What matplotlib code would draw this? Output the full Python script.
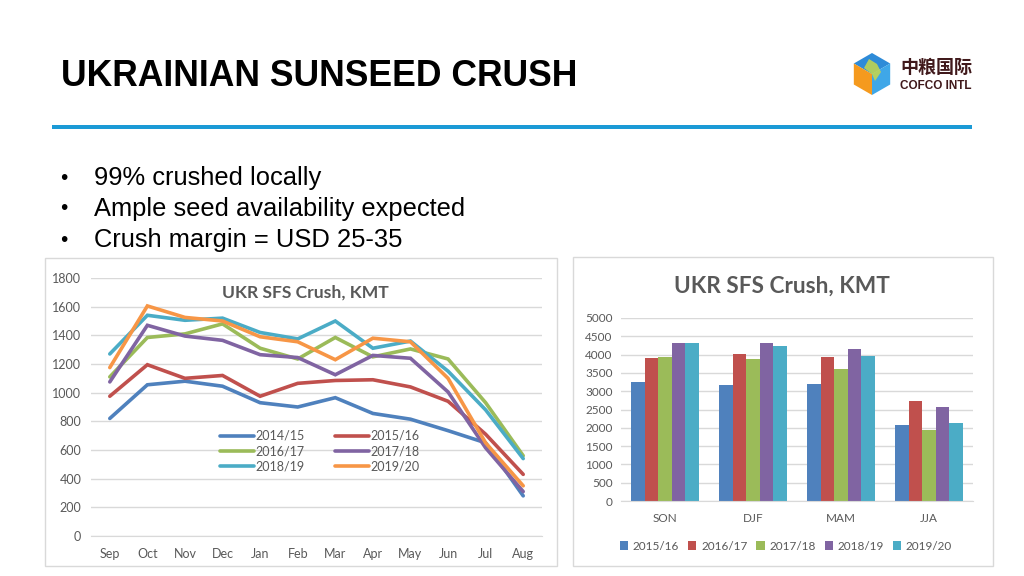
import matplotlib
matplotlib.use("Agg")
import matplotlib.pyplot as plt
from matplotlib.patches import Rectangle, Polygon
import numpy as np

# ---------------- data ----------------
months = ["Sep", "Oct", "Nov", "Dec", "Jan", "Feb", "Mar", "Apr", "May", "Jun", "Jul", "Aug"]
line_labels = ["2014/15", "2015/16", "2016/17", "2017/18", "2018/19", "2019/20"]
crush_1415 = [820, 1055, 1080, 1045, 930, 900, 965, 855, 815, 735, 650, 280]
crush_1516 = [975, 1195, 1100, 1120, 975, 1065, 1085, 1090, 1040, 940, 710, 430]
crush_1617 = [1110, 1385, 1410, 1480, 1310, 1235, 1385, 1250, 1305, 1235, 930, 560]
crush_1718 = [1075, 1470, 1395, 1365, 1265, 1245, 1125, 1260, 1240, 1005, 615, 310]
crush_1819 = [1270, 1540, 1505, 1520, 1420, 1375, 1500, 1310, 1360, 1150, 880, 540]
crush_1920 = [1175, 1605, 1525, 1500, 1390, 1355, 1230, 1380, 1355, 1100, 650, 350]
line_series = [crush_1415, crush_1516, crush_1617, crush_1718, crush_1819, crush_1920]
line_colors = ["#4F81BD", "#C0504D", "#9BBB59", "#8064A2", "#4BACC6", "#F79646"]

seasons = ["SON", "DJF", "MAM", "JJA"]
bar_labels = ["2015/16", "2016/17", "2017/18", "2018/19", "2019/20"]
bar_1516 = [3260, 3170, 3200, 2080]
bar_1617 = [3920, 4010, 3940, 2720]
bar_1718 = [3940, 3880, 3620, 1930]
bar_1819 = [4310, 4310, 4160, 2570]
bar_1920 = [4310, 4230, 3950, 2120]
bar_series = [bar_1516, bar_1617, bar_1718, bar_1819, bar_1920]
bar_colors = ["#4F81BD", "#C0504D", "#9BBB59", "#8064A2", "#4BACC6"]

title = "UKRAINIAN SUNSEED CRUSH"
bullets = ["99% crushed locally", "Ample seed availability expected", "Crush margin = USD 25-35"]
chart_title = "UKR SFS Crush, KMT"

W, H = 1024, 576
fig = plt.figure(figsize=(W / 100, H / 100), dpi=100)
fig.patch.set_facecolor("white")


def fx(x):
    return x / W


def fy(y):
    return 1 - y / H


def axes_px(x0, y0, x1, y1, **kw):
    return fig.add_axes([fx(x0), fy(y1), (x1 - x0) / W, (y1 - y0) / H], **kw)


SLIDE_FONT = ["Liberation Sans", "DejaVu Sans"]
CHART_FONT = ["Lato", "DejaVu Sans"]
GRAY = "#595959"
GRID = "#D9D9D9"

# ---------------- header ----------------
fig.text(fx(61), fy(76), title, fontsize=25.6, fontweight="bold", family=SLIDE_FONT,
         color="black", va="center", ha="left")
fig.add_artist(Rectangle((fx(52), fy(129)), fx(972) - fx(52), 4 / H,
                         transform=fig.transFigure, facecolor="#1B9AD6", edgecolor="none"))

for i, b in enumerate(bullets):
    y = 178 + i * 31
    fig.text(fx(60), fy(y), "•", fontsize=15, family=SLIDE_FONT, va="center", ha="left")
    fig.text(fx(94), fy(y), b, fontsize=18.4, family=SLIDE_FONT, va="center", ha="left")

# ---------------- logo ----------------
cx, cy, r = 872, 74, 21
hexpts = [(cx + r * np.cos(np.radians(a)), cy + r * np.sin(np.radians(a))) for a in (30, 90, 150, 210, 270, 330)]
center = (cx, cy)
top = [center, hexpts[3], hexpts[4], hexpts[5]]
left = [center, hexpts[1], hexpts[2], hexpts[3]]
right = [center, hexpts[5], hexpts[0], hexpts[1]]
for pts, col in [(top, "#2E8BD8"), (left, "#F59A1E"), (right, "#3FA7E8")]:
    fig.add_artist(Polygon([(fx(px), fy(py)) for px, py in pts], closed=True,
                           transform=fig.transFigure, facecolor=col, edgecolor="none"))
leaf = [(cx, cy), (cx - 8, cy - 6), (cx - 3, cy - 15), (cx + 5, cy - 10), (cx + 9, cy - 2), (cx + 3, cy + 7)]
fig.add_artist(Polygon([(fx(px), fy(py)) for px, py in leaf], closed=True,
                       transform=fig.transFigure, facecolor="#C8D84A", edgecolor="none", alpha=0.85))
fig.text(fx(900), fy(67), "中粮国际", fontsize=13, fontweight="bold",
         family=["Noto Sans CJK SC", "DejaVu Sans"], color="#40191B", va="center", ha="left")
fig.text(fx(900), fy(86), "COFCO INTL", fontsize=8.5, fontweight="bold",
         family=SLIDE_FONT, color="#40191B", va="center", ha="left")

# ---------------- chart frames ----------------
for (x0, y0, x1, y1) in [(45, 258, 557, 566), (573, 257, 993, 566)]:
    fig.add_artist(Rectangle((fx(x0), fy(y1)), (x1 - x0) / W, (y1 - y0) / H,
                             transform=fig.transFigure, facecolor="white",
                             edgecolor=GRID, linewidth=1.0, zorder=0))

# ---------------- line chart ----------------
ax1 = axes_px(91, 278, 542, 536)
x = np.arange(len(months))
handles = []
for s, lab, col in zip(line_series, line_labels, line_colors):
    h, = ax1.plot(x, s, color=col, linewidth=2.6, label=lab, solid_capstyle="round",
                  solid_joinstyle="miter")
    handles.append(h)
ax1.set_xlim(-0.5, len(months) - 0.5)
ax1.set_ylim(0, 1800)
ax1.set_yticks(range(0, 1801, 200))
ax1.set_xticks(x)
ax1.set_xticklabels(months)
ax1.grid(axis="y", color=GRID, linewidth=1.0)
ax1.set_axisbelow(True)
for sp in ["top", "right", "left"]:
    ax1.spines[sp].set_visible(False)
ax1.spines["bottom"].set_color(GRID)
ax1.tick_params(length=0, labelsize=9, labelcolor=GRAY)
ax1.tick_params(axis="x", pad=9)
ax1.tick_params(axis="y", pad=7)
for t in ax1.get_xticklabels() + ax1.get_yticklabels():
    t.set_family(CHART_FONT)
ax1.text(0.475, 0.975, chart_title, transform=ax1.transAxes, ha="center", va="top",
         fontsize=12.6, fontweight="bold", color=GRAY, family=CHART_FONT)
# row-wise legend order for two columns
order = [0, 2, 4, 1, 3, 5]
leg1 = ax1.legend([handles[i] for i in order], [line_labels[i] for i in order],
                  ncol=2, loc="center", bbox_to_anchor=(fx(320), fy(451)),
                  bbox_transform=fig.transFigure, frameon=False, handlelength=2.7,
                  handletextpad=0.15, columnspacing=2.4, labelspacing=0.25,
                  prop={"family": CHART_FONT, "size": 9})
for t in leg1.get_texts():
    t.set_color(GRAY)

# ---------------- bar chart ----------------
ax2 = axes_px(621, 318, 973, 501)
xs = np.arange(len(seasons))
bw = 0.155
n = len(bar_series)
for i, (s, lab, col) in enumerate(zip(bar_series, bar_labels, bar_colors)):
    ax2.bar(xs + (i - (n - 1) / 2) * bw, s, width=bw, color=col, label=lab, zorder=2)
ax2.set_xlim(-0.5, len(seasons) - 0.5)
ax2.set_ylim(0, 5000)
ax2.set_yticks(range(0, 5001, 500))
ax2.set_xticks(xs)
ax2.set_xticklabels(seasons)
ax2.grid(axis="y", color=GRID, linewidth=1.0, zorder=0)
ax2.set_axisbelow(True)
for sp in ["top", "right", "left"]:
    ax2.spines[sp].set_visible(False)
ax2.spines["bottom"].set_color(GRID)
ax2.tick_params(length=0, labelsize=8.5, labelcolor=GRAY)
ax2.tick_params(axis="x", pad=9)
ax2.tick_params(axis="y", pad=6)
for t in ax2.get_xticklabels() + ax2.get_yticklabels():
    t.set_family(CHART_FONT)
fig.text(fx(782), fy(286), chart_title, ha="center", va="center",
         fontsize=16.3, fontweight="bold", color=GRAY, family=CHART_FONT)
leg2 = ax2.legend(ncol=5, loc="center", bbox_to_anchor=(fx(786), fy(546)),
                  bbox_transform=fig.transFigure, frameon=False, handlelength=0.7,
                  handleheight=0.7, handletextpad=0.4, columnspacing=0.75,
                  prop={"family": CHART_FONT, "size": 8.5})
for t in leg2.get_texts():
    t.set_color(GRAY)

fig.savefig("out.png", dpi=100, facecolor="white")
